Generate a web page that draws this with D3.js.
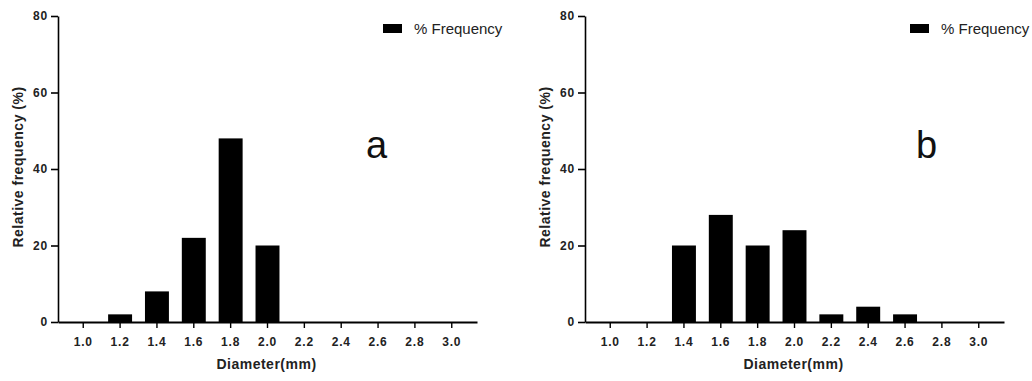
<!DOCTYPE html>
<html>
<head>
<meta charset="utf-8">
<script src="https://cdn.jsdelivr.net/npm/d3@7"></script>
<style>
  body { margin: 0; background: #fff; }
  svg { display: block; }
  text { font-family: "Liberation Sans", Arial, sans-serif; }
</style>
</head>
<body>
<div id="chart"></div>
<script>
// diameter classes (mm)
const diameters = ["1.0", "1.2", "1.4", "1.6", "1.8", "2.0", "2.2", "2.4", "2.6", "2.8", "3.0"];
// relative frequency (%) per class
const freqA = [0, 2, 8, 22, 48, 20, 0, 0, 0, 0, 0];
const freqB = [0, 0, 20, 28, 20, 24, 2, 4, 2, 0, 0];
const yTicks = [0, 20, 40, 60, 80];
const panels = [
  { label: "a", values: freqA, left: 0, letterX: 366 },
  { label: "b", values: freqB, left: 527, letterX: 389 }
];

const W = 1032, H = 381;
const svg = d3.select("#chart").append("svg")
  .attr("width", W)
  .attr("height", H);

panels.forEach(p => {
  let margin = { left: 58, right: 477, top: 16, bottom: 322 };
  let g = svg.append("g").attr("transform", "translate(" + p.left + ",0)");

  let x = d3.scaleBand()
    .domain(diameters)
    .range([margin.left, margin.right])
    .paddingInner(0.35)
    .paddingOuter(0.36);

  let y = d3.scaleLinear()
    .domain([0, 80])
    .range([margin.bottom, margin.top]);

  // bars
  g.selectAll("rect.bar")
    .data(diameters.map((d, i) => ({ d: d, v: p.values[i] })).filter(d => d.v > 0))
    .enter()
    .append("rect")
    .attr("class", "bar")
    .attr("x", d => x(d.d))
    .attr("y", d => y(d.v))
    .attr("width", x.bandwidth())
    .attr("height", d => y(0) - y(d.v))
    .attr("fill", "#000");

  // y axis
  let yAxis = g.append("g")
    .attr("transform", "translate(" + margin.left + ",0)")
    .call(d3.axisLeft(y).tickValues(yTicks).tickSize(7).tickPadding(3).tickSizeOuter(0));
  yAxis.select(".domain").attr("stroke", "#000").attr("stroke-width", 1.6);
  yAxis.selectAll(".tick line").attr("stroke-width", 1.6);
  yAxis.selectAll(".tick text")
    .attr("font-size", 12).attr("font-weight", "bold").attr("fill", "#222")
    .style("letter-spacing", "0.8px")
    .attr("font-family", "Liberation Sans, Arial, sans-serif");

  // x axis
  let xAxis = g.append("g")
    .attr("transform", "translate(0," + margin.bottom + ")")
    .call(d3.axisBottom(x).tickSize(6).tickPadding(9).tickSizeOuter(0));
  xAxis.select(".domain").attr("stroke", "#000").attr("stroke-width", 2);
  xAxis.selectAll(".tick line").attr("stroke-width", 1.4);
  xAxis.selectAll(".tick text")
    .attr("font-size", 12).attr("font-weight", "bold").attr("fill", "#222")
    .style("letter-spacing", "0.8px")
    .attr("font-family", "Liberation Sans, Arial, sans-serif");

  // axis titles
  g.append("text")
    .attr("transform", "translate(23," + ((margin.top + margin.bottom) / 2 - 2) + ") rotate(-90)")
    .attr("text-anchor", "middle")
    .attr("font-size", 14).attr("font-weight", "bold").attr("fill", "#222")
    .style("letter-spacing", "0.5px")
    .text("Relative frequency (%)");

  g.append("text")
    .attr("x", (margin.left + margin.right) / 2 - 1)
    .attr("y", 369)
    .attr("text-anchor", "middle")
    .attr("font-size", 14).attr("font-weight", "bold").attr("fill", "#222")
    .style("letter-spacing", "0.5px")
    .text("Diameter(mm)");

  // legend
  g.append("rect")
    .attr("x", 383).attr("y", 24)
    .attr("width", 19).attr("height", 9)
    .attr("fill", "#000");
  g.append("text")
    .attr("x", 414).attr("y", 34)
    .attr("font-size", 15).attr("fill", "#222")
    .text("% Frequency");

  // panel letter
  g.append("text")
    .attr("x", p.letterX).attr("y", 158)
    .attr("font-size", 38).attr("fill", "#111")
    .text(p.label);
});
</script>
</body>
</html>
